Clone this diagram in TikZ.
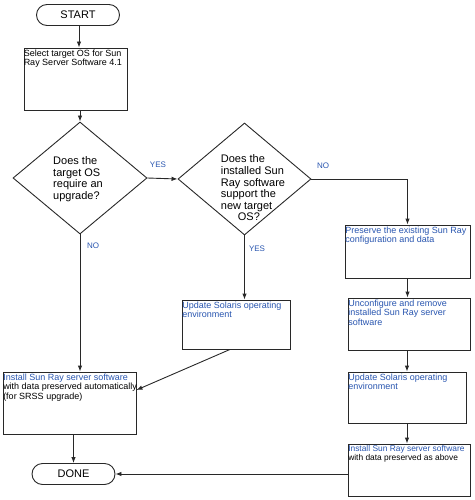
\documentclass[tikz,border=0pt]{standalone}
\usepackage{fontspec}
\setmainfont{Liberation Sans}
\usetikzlibrary{arrows.meta,shapes.geometric,shapes.misc,calc}
\definecolor{lblue}{RGB}{40,85,175}
\definecolor{lgray}{RGB}{40,40,40}
\begin{document}
\begin{tikzpicture}[x=1pt,y=-1pt,
  line/.style={draw=lgray,line width=0.9pt},
  arr/.style={line,-{Latex[length=6pt,width=4.5pt]}},
  boxnode/.style={line,rectangle,inner sep=0pt},
  term/.style={line,rounded rectangle,minimum width=83pt,minimum height=21pt,inner sep=0pt,font=\fontsize{11}{12}\selectfont},
  dia/.style={line,diamond,inner sep=0pt,text width=0pt},
  boxtext/.style={anchor=north west,inner sep=0pt,align=left,font=\fontsize{9}{7.2}\selectfont},
  diatext/.style={inner sep=0pt,align=left,font=\fontsize{11}{11.6}\selectfont},
  lab/.style={text=lblue,inner sep=0pt,font=\fontsize{8}{9}\selectfont}
]
\useasboundingbox (0,0) rectangle (474,500);
% terminals
\node[term] (start) at (78,15) {START};
\node[term] (done) at (73.5,474) {DONE};
% boxes
\node[boxnode,minimum width=103pt,minimum height=62pt] (sel) at (75.5,79) {};
\node[boxnode,minimum width=133pt,minimum height=62pt] (inst1) at (69.5,403) {};
\node[boxnode,minimum width=108pt,minimum height=49pt] (upd1) at (236,324.5) {};
\node[boxnode,minimum width=125pt,minimum height=53pt] (pres) at (407.5,251.5) {};
\node[boxnode,minimum width=122pt,minimum height=52pt] (uncf) at (409,324) {};
\node[boxnode,minimum width=118pt,minimum height=51pt] (upd2) at (407,397.5) {};
\node[boxnode,minimum width=122pt,minimum height=52pt] (inst2) at (409,470) {};
% diamonds
\node[dia,minimum width=134pt,minimum height=112pt] (d1) at (80,178) {};
\node[dia,minimum width=133pt,minimum height=112pt] (d2) at (244.5,179) {};
% box texts
\node[boxtext] (tsel) at ([xshift=0pt,yshift=-2pt]sel.north west) {Select target OS for Sun\\Ray Server Software 4.1};
\node[boxtext] (tinst1) at ([xshift=0.5pt,yshift=-2pt]inst1.north west) {\textcolor{lblue}{Install Sun Ray server software}\\with data preserved automatically\\(for SRSS upgrade)};
\node[boxtext] (tupd1) at ([xshift=0.5pt,yshift=-2pt]upd1.north west) {\textcolor{lblue}{Update Solaris operating}\\\textcolor{lblue}{environment}};
\node[boxtext] (tpres) at ([xshift=0.5pt,yshift=-2pt]pres.north west) {\textcolor{lblue}{Preserve the existing Sun Ray}\\\textcolor{lblue}{configuration and data}};
\node[boxtext] (tuncf) at ([xshift=0.5pt,yshift=-2pt]uncf.north west) {\textcolor{lblue}{Unconfigure and remove}\\\textcolor{lblue}{installed Sun Ray server}\\\textcolor{lblue}{software}};
\node[boxtext] (tupd2) at ([xshift=0.5pt,yshift=-2pt]upd2.north west) {\textcolor{lblue}{Update Solaris operating}\\\textcolor{lblue}{environment}};
\node[boxtext,font=\fontsize{8.4}{7.2}\selectfont] (tinst2) at ([xshift=0.5pt,yshift=-2pt]inst2.north west) {\textcolor{lblue}{Install Sun Ray server software}\\with data preserved as above};
% diamond texts
\node[diatext] (td1) at (78,179) {Does the\\target OS\\require an\\upgrade?};
\node[diatext] (td2) at (253,188) {Does the\\installed Sun\\Ray software\\support the\\new target\\\hspace*{17pt}OS?};
% connectors
\draw[arr] (start.south -| 79,0) -- (sel.north -| 79,0);
\draw[arr] (sel.south -| d1.north) -- (d1.north);
\draw[arr] (d1.east) -- (d2.west);
\node[lab] (yes1) at (158,165) {YES};
\draw[arr] (d2.east) -| (pres.north);
\node[lab] (no2) at (323,166) {NO};
\draw[arr] (d2.south) -- (d2.south |- upd1.north);
\node[lab] (yes2) at (257,249) {YES};
\draw[arr] (d1.south) -- (d1.south |- inst1.north);
\node[lab] (no1) at (93,246) {NO};
\draw[arr] ([xshift=-6pt]upd1.south) -- ([yshift=13pt]inst1.east);
\draw[arr] (pres.south) -- (pres.south |- uncf.north);
\draw[arr] (upd2.north |- uncf.south) -- (upd2.north);
\draw[arr] (upd2.south) -- (upd2.south |- inst2.north);
\draw[arr] (done.north |- inst1.south) -- (done.north);
\draw[arr] (inst2.west |- done.east) -- (done.east);
\end{tikzpicture}
\end{document}
